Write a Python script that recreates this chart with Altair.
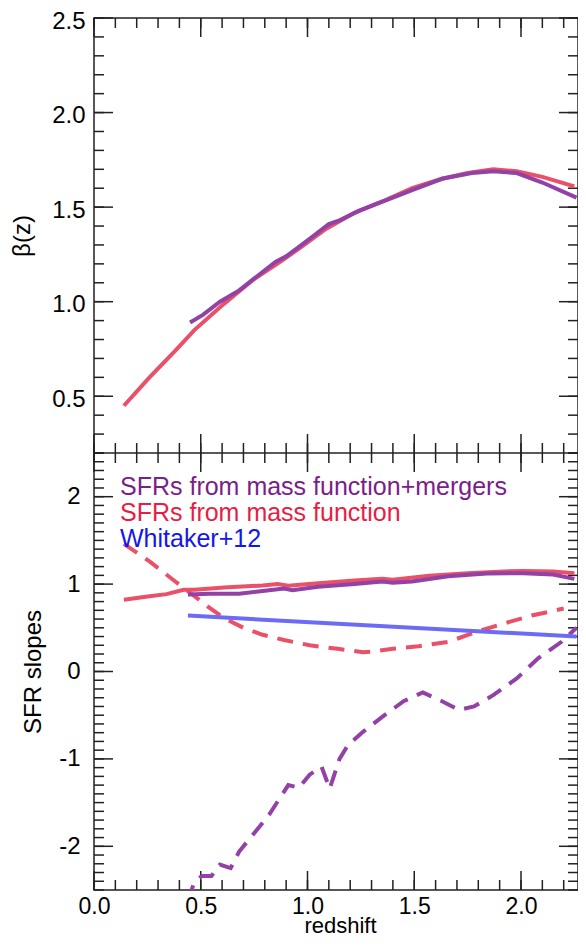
import altair as alt
import pandas as pd

# ---------------- data ----------------
# top panel: beta(z)
beta_mf_z = [0.14, 0.26, 0.38, 0.47, 0.61, 0.75, 0.87, 0.96, 1.08, 1.22, 1.35, 1.49, 1.63, 1.75, 1.87, 1.98, 2.10, 2.25]
beta_mf_v = [0.45, 0.60, 0.74, 0.85, 0.99, 1.12, 1.21, 1.28, 1.38, 1.47, 1.53, 1.60, 1.65, 1.68, 1.70, 1.69, 1.66, 1.61]

beta_mm_z = [0.45, 0.51, 0.59, 0.68, 0.77, 0.85, 0.90, 0.96, 1.03, 1.10, 1.15, 1.24, 1.33, 1.40, 1.49, 1.63, 1.77, 1.87, 1.98, 2.10, 2.26]
beta_mm_v = [0.89, 0.93, 1.00, 1.06, 1.14, 1.21, 1.24, 1.29, 1.35, 1.41, 1.43, 1.48, 1.52, 1.55, 1.59, 1.65, 1.68, 1.69, 1.68, 1.63, 1.55]

# bottom panel: SFR slopes (solid)
slope_mf_z = [0.14, 0.26, 0.34, 0.42, 0.47, 0.61, 0.79, 0.86, 0.91, 1.05, 1.22, 1.35, 1.40, 1.57, 1.75, 1.92, 2.01, 2.15, 2.25]
slope_mf_v = [0.82, 0.86, 0.885, 0.935, 0.935, 0.96, 0.985, 1.00, 0.98, 1.01, 1.04, 1.06, 1.05, 1.095, 1.125, 1.145, 1.15, 1.145, 1.125]

slope_mm_z = [0.44, 0.54, 0.68, 0.79, 0.89, 0.93, 1.05, 1.22, 1.35, 1.40, 1.49, 1.66, 1.84, 2.01, 2.15, 2.25]
slope_mm_v = [0.88, 0.89, 0.89, 0.92, 0.95, 0.93, 0.97, 1.00, 1.03, 1.015, 1.03, 1.09, 1.12, 1.125, 1.11, 1.06]

whit_z = [0.44, 2.26]
whit_v = [0.64, 0.40]

# bottom panel: dashed curves
dash_mf_z = [0.14, 0.26, 0.37, 0.44, 0.54, 0.61, 0.70, 0.79, 0.89, 1.01, 1.14, 1.26, 1.31, 1.40, 1.52, 1.66, 1.80, 1.92, 2.05, 2.20]
dash_mf_v = [1.46, 1.26, 1.05, 0.92, 0.73, 0.61, 0.50, 0.42, 0.36, 0.30, 0.26, 0.22, 0.23, 0.26, 0.29, 0.34, 0.46, 0.55, 0.64, 0.72]

dash_mm_z = [0.44, 0.47, 0.505, 0.55, 0.59, 0.64, 0.68, 0.75, 0.82, 0.87, 0.91, 0.96, 1.01, 1.066, 1.104, 1.15, 1.19, 1.26, 1.35, 1.45, 1.54, 1.63, 1.71, 1.78, 1.87, 1.98, 2.08, 2.19, 2.26]
dash_mm_v = [-2.62, -2.41, -2.34, -2.34, -2.21, -2.25, -2.06, -1.85, -1.64, -1.45, -1.30, -1.33, -1.18, -1.09, -1.34, -1.00, -0.84, -0.69, -0.52, -0.34, -0.24, -0.34, -0.44, -0.40, -0.27, -0.08, 0.15, 0.34, 0.50]

legend_labels = ["SFRs from mass function+mergers", "SFRs from mass function", "Whitaker+12"]
legend_colors = ["#7b1d8a", "#e61e44", "#1515ee"]

# axis ticks / labels
x_major = [0.0, 0.5, 1.0, 1.5, 2.0]
x_minor = [round(0.1 * i, 1) for i in range(23)]
top_y_major = [0.5, 1.0, 1.5, 2.0, 2.5]
top_y_minor = [round(0.2 + 0.1 * i, 1) for i in range(24)]
bot_y_major = [-2, -1, 0, 1, 2]
bot_y_minor = [round(-2.5 + 0.1 * i, 1) for i in range(51)]

# ---------------- styling / layout ----------------
FONT = "Liberation Sans"
W = 484
H_TOP = 435          # upper panel height (px)
H_BOT = 437          # lower panel height (px)
H = H_TOP + H_BOT
RED = "#ea5068"
PURPLE = "#9242a6"
BLUE = "#6b6bf5"
LW = 4
MAJ, MIN = 19, 10
TICKC = "#222"

XSCALE = alt.Scale(domain=[0.0, 2.267], nice=False, zero=False)
TOPSCALE = alt.Scale(domain=[0.2, 2.5], range=[H_TOP, 0], nice=False, zero=False)
BOTSCALE = alt.Scale(domain=[-2.5, 2.5], range=[H, H_TOP], nice=False, zero=False)

X_AXIS = alt.Axis(values=x_major, format=".1f", ticks=False, domain=False, grid=False,
                  labelFont=FONT, labelFontSize=23, labelColor="black", labelPadding=5,
                  labelFlush=False, labelOverlap=False,
                  titleFont=FONT, titleFontSize=22, titleFontWeight="normal", titleColor="black",
                  titleBaseline="middle", titleY=35, titleX=246)
TOP_AXIS = alt.Axis(values=top_y_major, format=".1f", ticks=False, domain=False, grid=False,
                    orient="left", offset=0, labelOffset=3,
                    labelFont=FONT, labelFontSize=24, labelColor="black", labelPadding=9,
                    titleFont=FONT, titleFontSize=24, titleFontWeight="normal", titleColor="black",
                    titleAngle=270, titleBaseline="middle", titleAlign="center",
                    titleX=-72, titleY=H_TOP / 2)
BOT_AXIS = alt.Axis(values=bot_y_major, ticks=False, domain=False, grid=False,
                    orient="left", offset=0,
                    labelExpr="datum.value < 0 ? '-' + abs(datum.value) : '' + datum.value",
                    labelFont=FONT, labelFontSize=24, labelColor="black", labelPadding=14,
                    titleFont=FONT, titleFontSize=24, titleFontWeight="normal", titleColor="black",
                    titleAngle=270, titleBaseline="middle", titleAlign="center",
                    titleX=-61, titleY=H_TOP + H_BOT / 2)


def X(field):
    return alt.X(field, type="quantitative", scale=XSCALE, axis=X_AXIS, title="redshift")


def Y(field, top):
    if top:
        return alt.Y(field, type="quantitative", scale=TOPSCALE, axis=TOP_AXIS, title="β(z)")
    return alt.Y(field, type="quantitative", scale=BOTSCALE, axis=BOT_AXIS, title="SFR slopes")


def ticks(xvals, yvals, length, top):
    """Inward ticks on the four sides of one panel, through that panel's scales."""
    y0 = 0 if top else H_TOP
    y1 = H_TOP if top else H
    dx = pd.DataFrame({"z": xvals})
    dy = pd.DataFrame({"v": yvals})
    out = []
    for a, b in [(0, length), (W - length, W)]:
        out.append(alt.Chart(dy).mark_rule(color=TICKC, strokeWidth=1.5)
                   .encode(y=Y("v", top), x=alt.value(a), x2=alt.value(b)))
    for a, b in [(y0, y0 + length), (y1 - length, y1)]:
        out.append(alt.Chart(dx).mark_rule(color=TICKC, strokeWidth=1.5)
                   .encode(x=X("z"), y=alt.value(a), y2=alt.value(b)))
    return out


def line(xs, ys, color, top, dash=None, clip=False):
    df = pd.DataFrame({"z": xs, "v": ys})
    kw = dict(color=color, strokeWidth=LW, clip=clip, strokeCap="butt")
    if dash:
        kw["strokeDash"] = dash
    return alt.Chart(df).mark_line(**kw).encode(x=X("z"), y=Y("v", top))


# ---------------- upper panel ----------------
top_layers = []
top_layers += ticks(x_minor, top_y_minor, MIN, True)
top_layers += ticks(x_major, top_y_major, MAJ, True)
top_layers.append(line(beta_mf_z, beta_mf_v, RED, True, clip=True))
top_layers.append(line(beta_mm_z, beta_mm_v, PURPLE, True, clip=True))
# border between the two panels
top_layers.append(
    alt.Chart(pd.DataFrame({"v": [0.2]})).mark_rule(color=TICKC, strokeWidth=1.5)
    .encode(y=Y("v", True), x=alt.value(0), x2=alt.value(W))
)
top_group = alt.layer(*top_layers)

# ---------------- lower panel ----------------
bot_layers = []
bot_layers += ticks(x_minor, bot_y_minor, MIN, False)
bot_layers += ticks(x_major, bot_y_major, MAJ, False)
bot_layers.append(line(dash_mf_z, dash_mf_v, RED, False, dash=[16, 10], clip=True))
bot_layers.append(line(dash_mm_z, dash_mm_v, PURPLE, False, dash=[16, 10], clip=True))
bot_layers.append(line(whit_z, whit_v, BLUE, False, clip=True))
bot_layers.append(line(slope_mf_z, slope_mf_v, RED, False, clip=True))
bot_layers.append(line(slope_mm_z, slope_mm_v, PURPLE, False, clip=True))
for i, (lab, col) in enumerate(zip(legend_labels, legend_colors)):
    bot_layers.append(
        alt.Chart(pd.DataFrame({"label": [lab]}))
        .mark_text(align="left", baseline="middle", font=FONT, fontSize=25, color=col)
        .encode(text="label:N", x=alt.value(26), y=alt.value(H_TOP + 34 + 26 * i))
    )
bot_group = alt.layer(*bot_layers)

chart = (
    alt.layer(top_group, bot_group)
    .resolve_scale(y="independent")
    .properties(
        width=W,
        height=H,
        autosize=alt.AutoSizeParams(type="none"),
        padding={"left": 86, "top": 10, "right": 0, "bottom": 45},
        background="white",
    )
    .configure_view(stroke=TICKC, strokeWidth=1.5)
)

chart.save("out.html", embed_options={"renderer": "svg", "actions": False})
